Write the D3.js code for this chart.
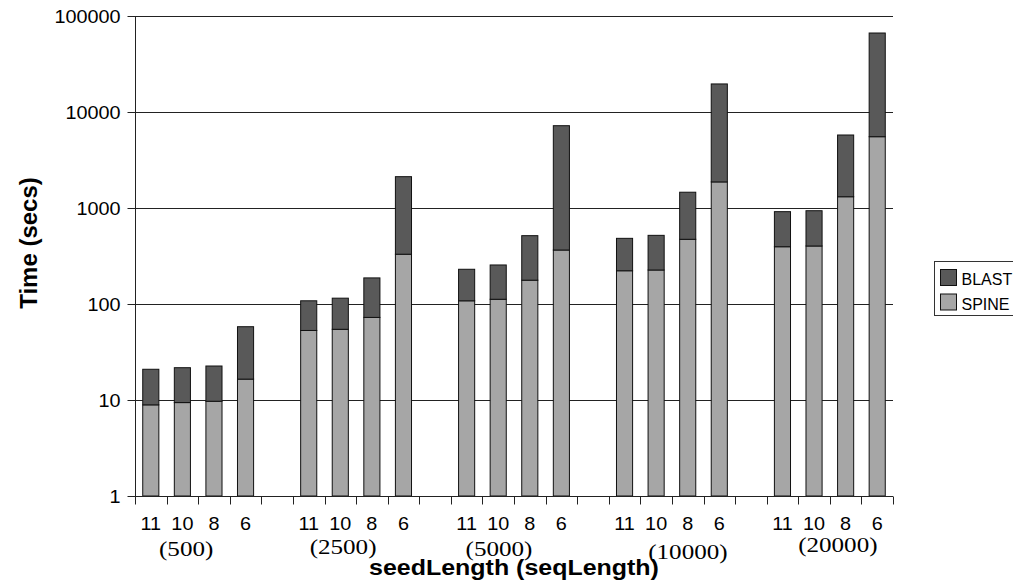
<!DOCTYPE html>
<html><head><meta charset="utf-8">
<script src="https://cdn.jsdelivr.net/npm/d3@7"></script>
<style>body{margin:0;background:#fff}svg{display:block}</style>
</head><body><svg id="c" width="1013" height="585"></svg>
<script>
// ---------- data ----------
const seqLengths = ["(500)", "(2500)", "(5000)", "(10000)", "(20000)"];
const seedLengths = ["11", "10", "8", "6"];
// SPINE time (secs), in order seq group x seed length
const spineTimes = [8.9, 9.4, 9.7, 16.5, 53, 54.5, 72.5, 330, 108, 112, 177, 365, 222, 226, 472, 1870, 395, 402, 1310, 5530];
// BLAST time (secs), stacked on top of SPINE
const blastTimes = [12, 12.3, 12.9, 41.5, 55, 60.5, 114.5, 1790, 122, 143, 338, 6835, 261, 293, 988, 17730, 521, 535, 4450, 60970];
const yTickValues = [1, 10, 100, 1000, 10000, 100000];
const seriesNames = ["BLAST", "SPINE"];
const seriesColors = {BLAST: "#595959", SPINE: "#a6a6a6"};

// ---------- layout ----------
const L = 135, R = 893, T = 16, B = 496;
const SX = 1.12; // horizontal text stretch of the original
const svg = d3.select("#c");

const rows = [];
const slots = [];
seqLengths.forEach((g, gi) => {
  seedLengths.forEach((s, si) => {
    const k = gi * seedLengths.length + si;
    const key = g + "|" + s;
    rows.push({key, group: g, seed: s, spine: spineTimes[k], blast: blastTimes[k]});
    slots.push(key);
  });
  if (gi < seqLengths.length - 1) slots.push("gap" + gi);
});

const x = d3.scaleBand().domain(slots).range([L, R]).paddingInner(0.49).paddingOuter(0.245);
const y = d3.scaleLog().domain([1, 100000]).range([B, T]);

function txt(sel, px, py, str, o) {
  return sel.append("text")
    .attr("transform", `translate(${px},${py}) scale(${o.sx || 1},1)`)
    .attr("text-anchor", o.anchor || "middle")
    .attr("font-family", o.family || "Arial, 'Liberation Sans', sans-serif")
    .attr("font-size", o.size)
    .attr("font-weight", o.weight || "normal")
    .attr("fill", "#000")
    .text(str);
}

// gridlines
svg.append("g").selectAll("line").data(yTickValues.slice(1)).join("line")
  .attr("x1", L).attr("x2", R)
  .attr("y1", d => Math.round(y(d)) + 0.5).attr("y2", d => Math.round(y(d)) + 0.5)
  .attr("stroke", "#222").attr("stroke-width", 1);

// bars
const stacked = d3.stack().keys(["spine", "blast"])(rows);
const names = {spine: "SPINE", blast: "BLAST"};
svg.append("g").selectAll("g").data(stacked).join("g")
  .attr("fill", d => seriesColors[names[d.key]])
  .selectAll("rect").data(d => d).join("rect")
  .attr("x", d => x(d.data.key))
  .attr("width", x.bandwidth())
  .attr("y", d => y(d[1]))
  .attr("height", d => y(Math.max(d[0], 1)) - y(d[1]))
  .attr("stroke", "#111").attr("stroke-width", 1);

// y axis
const yAxis = svg.append("g").attr("transform", `translate(${L + 0.5},0)`)
  .call(d3.axisLeft(y).tickValues(yTickValues).tickFormat(d3.format("d")).tickSize(8).tickPadding(0));
yAxis.select(".domain").attr("stroke", "#222").attr("d", `M0,${T}V${B}`);
yAxis.selectAll(".tick line").attr("stroke", "#222");
yAxis.selectAll(".tick text").remove();
yAxis.selectAll(".tick").each(function(d) {
  txt(d3.select(this), -15, 6.3, String(d), {anchor: "end", size: 17.7, sx: SX});
});

// x axis
const xAxis = svg.append("g").attr("transform", `translate(0,${B + 0.5})`);
xAxis.append("line").attr("x1", L).attr("x2", R).attr("stroke", "#222");
xAxis.selectAll(".bt").data(d3.range(slots.length + 1)).join("line")
  .attr("x1", i => Math.round(L + i * x.step()) + 0.5).attr("x2", i => Math.round(L + i * x.step()) + 0.5)
  .attr("y1", 0).attr("y2", 8).attr("stroke", "#222");
rows.forEach(r => {
  txt(svg, x(r.key) + x.bandwidth() / 2, 529.5, r.seed, {size: 17.7, sx: SX});
});

// group labels (seqLength), hand-placed like the original text boxes
const groupNudge = [[-12, 556], [-13, 553.5], [-15, 556], [16, 558.5], [8, 552]];
seqLengths.forEach((g, gi) => {
  const first = x(g + "|" + seedLengths[0]);
  const last = x(g + "|" + seedLengths[seedLengths.length - 1]) + x.bandwidth();
  txt(svg, (first + last) / 2 + groupNudge[gi][0], groupNudge[gi][1], g,
      {size: 22, sx: 1.14, family: "'Liberation Serif', 'Times New Roman', serif"});
});

// axis titles
txt(svg, 514, 574.5, "seedLength (seqLength)", {size: 22.3, sx: SX, weight: "bold"});
svg.append("text")
  .attr("transform", "translate(36.5,243) rotate(-90)")
  .attr("text-anchor", "middle")
  .attr("font-family", "Arial, 'Liberation Sans', sans-serif")
  .attr("font-size", 24).attr("font-weight", "bold")
  .text("Time (secs)");

// legend
const lg = svg.append("g");
lg.append("rect").attr("x", 934.5).attr("y", 261.5).attr("width", 100).attr("height", 54)
  .attr("fill", "#fff").attr("stroke", "#333");
seriesNames.forEach((n, i) => {
  lg.append("rect").attr("x", 940.5).attr("y", 269.5 + i * 24.5).attr("width", 16).attr("height", 16)
    .attr("fill", seriesColors[n]).attr("stroke", "#111");
  txt(lg, 961.5, 284.5 + i * 25, n, {anchor: "start", size: 16, sx: 1.0});
});
</script></body></html>
